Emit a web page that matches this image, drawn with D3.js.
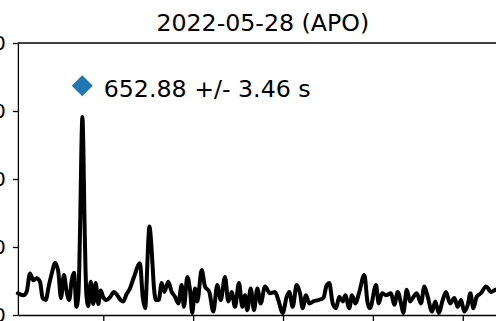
<!DOCTYPE html>
<html>
<head>
<meta charset="utf-8">
<script src="https://cdn.jsdelivr.net/npm/d3@7"></script>
<style>
    body { margin: 0; background: #fff; }
    svg { display: block; font-family: "DejaVu Sans", sans-serif; }
</style>
</head>
<body>
<div id="chart"></div>
<script>
// frequency (mHz) and amplitude
let freqs = [0.10, 0.22, 0.295, 0.369, 0.442, 0.518, 0.591, 0.651, 0.718, 0.791, 0.865, 0.925, 0.998, 1.059,
    1.125, 1.185, 1.243, 1.297, 1.348, 1.403, 1.446, 1.468, 1.490, 1.513, 1.535, 1.557, 1.579, 1.602, 1.624,
    1.666, 1.720, 1.777, 1.831, 1.889, 1.942, 2.0, 2.076, 2.149, 2.238, 2.312, 2.387, 2.445, 2.521, 2.594,
    2.683, 2.817, 2.877, 2.935, 2.961, 2.995, 3.028, 3.062, 3.095, 3.128, 3.173, 3.233, 3.300, 3.358, 3.447,
    3.522, 3.596, 3.669, 3.745, 3.796, 3.870, 3.930, 3.981, 4.041, 4.092, 4.190, 4.263, 4.359, 4.448, 4.537,
    4.613, 4.709, 4.782, 4.858, 4.931, 5.020, 5.094, 5.154, 5.205, 5.281, 5.354, 5.428, 5.503, 5.599, 5.710,
    5.822, 5.895, 5.993, 6.082, 6.140, 6.215, 6.304, 6.378, 6.438, 6.511, 6.585, 6.674, 6.785, 6.897, 6.972,
    7.030, 7.106, 7.179, 7.253, 7.328, 7.386, 7.475, 7.535, 7.609, 7.698, 7.809, 7.885, 7.936, 8.070, 8.129,
    8.203, 8.292, 8.403, 8.477, 8.552, 8.626, 8.677, 8.753, 8.826, 8.886, 8.975, 9.071, 9.144, 9.220, 9.315,
    9.389, 9.465, 9.554, 9.627, 9.716, 9.812, 9.888, 9.961, 10.035, 10.111, 10.169, 10.235, 10.311, 10.406,
    10.518, 10.629, 10.740, 10.87, 11.0];
let amps = [0.32, 0.29, 0.34, 0.61, 0.51, 0.54, 0.49, 0.25, 0.22, 0.44, 0.64, 0.77, 0.64, 0.25,
    0.59, 0.34, 0.22, 0.51, 0.62, 0.12, 0.30, 0.75, 1.50, 2.45, 2.91, 2.45, 1.50, 0.75, 0.30,
    0.13, 0.49, 0.16, 0.47, 0.16, 0.36, 0.26, 0.22, 0.26, 0.34, 0.29, 0.22, 0.20, 0.31, 0.39,
    0.56, 0.76, 0.27, 0.10, 0.40, 1.00, 1.30, 1.10, 0.75, 0.40, 0.22, 0.22, 0.47, 0.34, 0.49,
    0.34, 0.27, 0.17, 0.44, 0.12, 0.56, 0.37, 0.03, 0.39, 0.20, 0.66, 0.42, 0.34, 0.05, 0.44,
    0.22, 0.56, 0.20, 0.34, 0.12, 0.47, 0.12, 0.29, 0.07, 0.39, 0.07, 0.39, 0.17, 0.42, 0.32,
    0.34, 0.22, 0.03, 0.27, 0.34, 0.12, 0.44, 0.32, 0.10, 0.29, 0.17, 0.20, 0.22, 0.25, 0.44,
    0.47, 0.17, 0.10, 0.27, 0.20, 0.29, 0.10, 0.29, 0.17, 0.34, 0.59, 0.17, 0.10, 0.44, 0.17,
    0.32, 0.29, 0.32, 0.15, 0.34, 0.17, 0.03, 0.37, 0.20, 0.25, 0.32, 0.17, 0.42, 0.27, 0.05,
    0.20, 0.03, 0.22, 0.34, 0.17, 0.25, 0.12, 0.22, 0.05, 0.15, 0.32, 0.10, 0.27, 0.32,
    0.42, 0.34, 0.37, 0.35, 0.33];

let xTicks = [2, 4, 6, 8, 10];
let yTicks = [0, 1, 2, 3, 4];

let titleText = '2022-05-28 (APO)';
let peakPeriod = 652.88;   // s
let peakError = 3.46;      // s
let markerLevel = 3.37;

const W = 496, H = 321;
const margin = {left: 17.9, top: 43, right: 507.7, bottom: 315};

let svg = d3.select('#chart').append('svg')
    .attr('width', W)
    .attr('height', H);

let x = d3.scaleLinear()
    .domain([0.1, 11])
    .range([margin.left, margin.right]);

let y = d3.scaleLinear()
    .domain([0, 4])
    .range([margin.bottom, margin.top]);

let line = d3.line()
    .curve(d3.curveMonotoneX)
    .x(function(d) { return x(d[0]); })
    .y(function(d) { return y(d[1]); });

let points = freqs.map(function(f, i) { return [f, amps[i]]; });

svg.append('path')
    .datum(points)
    .attr('fill', 'none')
    .attr('stroke', '#000')
    .attr('stroke-width', 4)
    .attr('stroke-linejoin', 'round')
    .attr('stroke-linecap', 'round')
    .attr('d', line);

// axes
let yAxis = d3.axisLeft(y).tickValues(yTicks).tickSize(5).tickSizeOuter(0).tickPadding(7);
let xAxis = d3.axisBottom(x).tickValues(xTicks).tickSize(6).tickSizeOuter(0).tickPadding(6);

let gy = svg.append('g')
    .attr('transform', 'translate(' + margin.left + ',0)')
    .call(yAxis);
let gx = svg.append('g')
    .attr('transform', 'translate(0,' + margin.bottom + ')')
    .call(xAxis);

[gx, gy].forEach(function(g) {
    g.selectAll('path, line').attr('stroke', '#000').attr('stroke-width', 1.3);
    g.selectAll('text')
        .attr('fill', '#000')
        .style('font-family', '"DejaVu Sans", sans-serif')
        .style('font-size', '19.7px');
});

// top and right spines
svg.append('line')
    .attr('x1', margin.left).attr('x2', margin.right)
    .attr('y1', margin.top).attr('y2', margin.top)
    .attr('stroke', '#000').attr('stroke-width', 1.3);
svg.append('line')
    .attr('x1', margin.right).attr('x2', margin.right)
    .attr('y1', margin.top).attr('y2', margin.bottom)
    .attr('stroke', '#000').attr('stroke-width', 1.3);

svg.append('text')
    .attr('x', (margin.left + margin.right) / 2)
    .attr('y', 31)
    .attr('text-anchor', 'middle')
    .style('font-size', '23.7px')
    .attr('fill', '#000')
    .text(titleText);

// peak marker + label
let peakFreq = 1000 / peakPeriod;
let mx = x(peakFreq), my = y(markerLevel);
let r = 10.5;
svg.append('path')
    .attr('d', 'M' + mx + ',' + (my - r) + 'L' + (mx + r) + ',' + my + 'L' + mx + ',' + (my + r) + 'L' + (mx - r) + ',' + my + 'Z')
    .attr('fill', '#1f77b4');

svg.append('text')
    .attr('x', mx + 21.5)
    .attr('y', my + 11.5)
    .style('font-size', '23.7px')
    .attr('fill', '#000')
    .text(peakPeriod.toFixed(2) + ' +/- ' + peakError.toFixed(2) + ' s');
</script>
</body>
</html>
